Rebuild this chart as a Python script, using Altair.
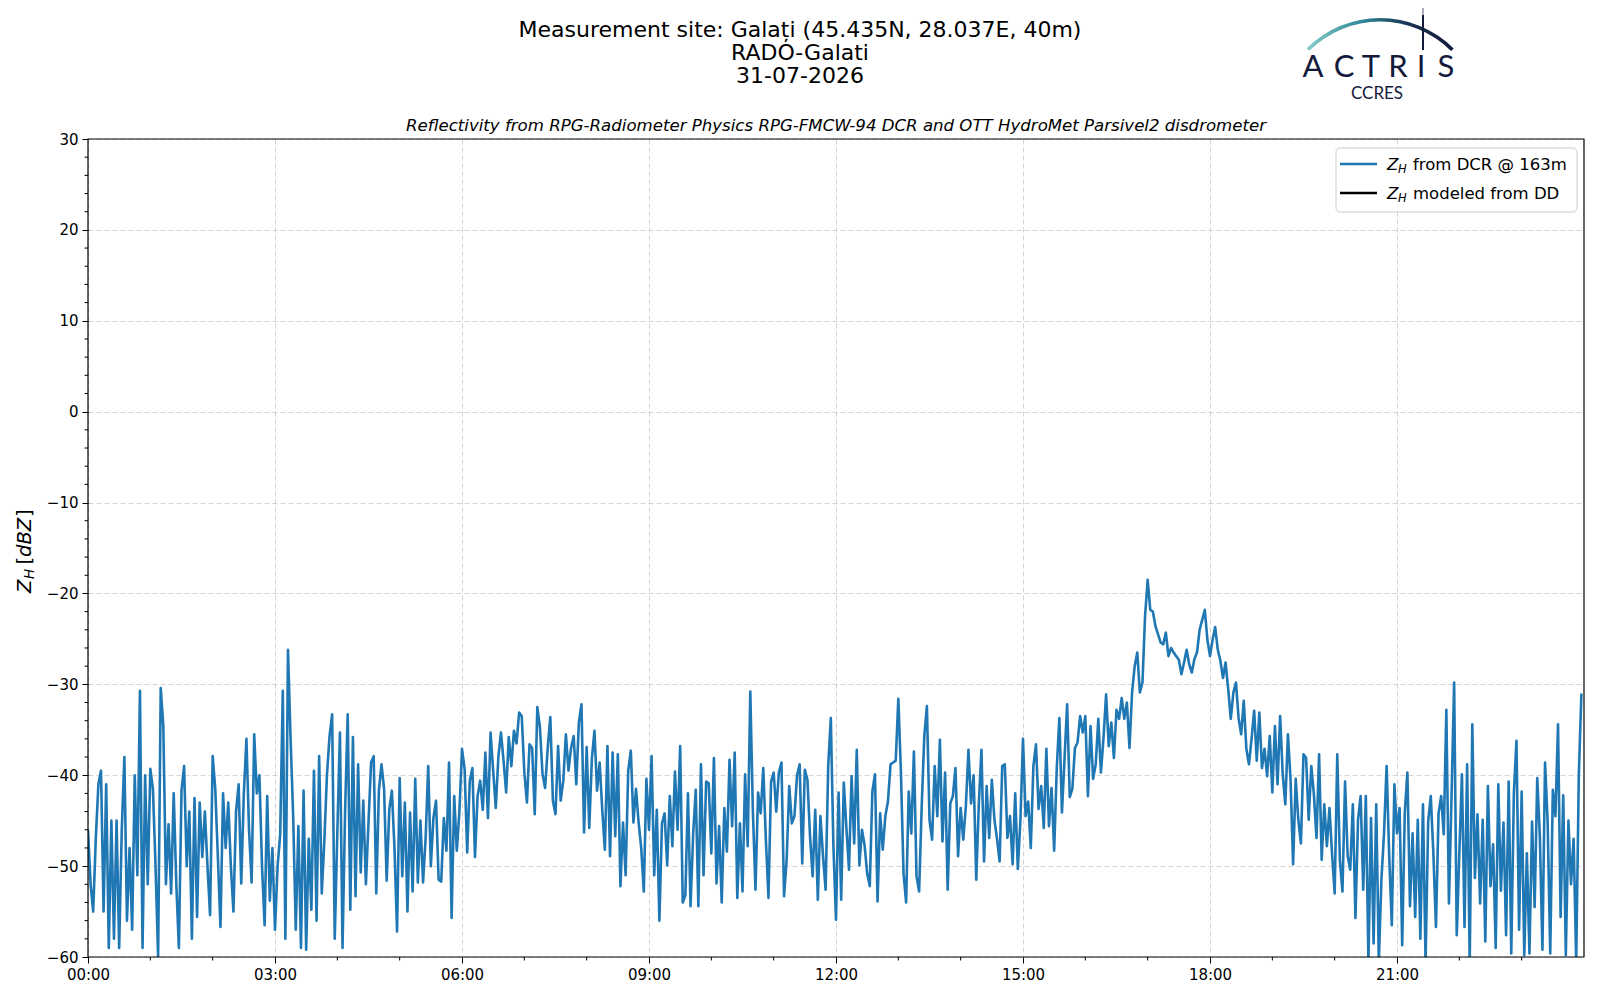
import pandas as pd
import altair as alt

FONT = "DejaVu Sans"
BLUE = "#1f77b4"
NAVY = "#141a3c"

# Z_H from the cloud radar, 2.5-minute steps, one list per 3 hours
zh_00_03 = [-46, -52, -55, -47, -41, -39.5, -55, -41, -59, -45, -58, -45, -59, -46, -38, -56, -48, -57,
            -40, -51, -30.7, -59, -40, -52, -39.3, -41.5, -50, -60, -30.4, -34.6, -52, -45.4, -53, -42, -52, -59,
            -41.7, -39, -50, -44, -58, -42.5, -55.6, -43, -49, -44, -50, -55.4, -37.9, -41.5, -49, -56.7, -42, -48,
            -43, -50, -55, -44, -41, -51.9, -42, -36, -46, -51.8, -35.5, -42, -40, -50, -56.5, -42.3, -53.8, -48]
zh_03_06 = [-57, -50, -46.5, -30.7, -58, -26.2, -36, -44.5, -57, -45.6, -59, -41.7, -59.2, -47, -54.8, -39.5, -56, -37.9,
            -53, -47.2, -40, -35.7, -33.3, -58, -46.3, -35.3, -59, -43.8, -33.3, -54.8, -35.8, -53.3, -38.8, -50.7, -42.8, -52,
            -45.2, -38.6, -37.9, -53, -41.7, -38.8, -41.5, -51.6, -43.8, -41.7, -48, -57.2, -40.3, -51.1, -43, -55, -44.1, -52.8,
            -40.4, -51.8, -45, -51.8, -46.9, -39, -50, -44.7, -42.8, -51.5, -51.7, -44.7, -48.3, -38.6, -55.7, -42.3, -48.3, -44]
zh_06_09 = [-37.1, -39.3, -48.5, -40.6, -39.2, -49, -42.3, -40.6, -43.8, -37.5, -44.7, -35.3, -39.5, -43.6, -38, -35.3, -38.4, -41.9,
            -35.8, -39, -35.1, -36.5, -33.1, -33.5, -39.7, -43, -36.6, -37, -44.3, -32.5, -34.7, -39.9, -41.4, -37, -33.6, -42.8,
            -44.3, -36.8, -42.8, -40.6, -35.5, -39.5, -37, -35.7, -41, -34.2, -32.2, -46.3, -36.9, -45.8, -38.2, -35.1, -41.7, -38.6,
            -43.8, -48.2, -36.8, -48.9, -37.5, -46.7, -37.7, -52.2, -45.2, -51, -39.5, -37.3, -45.2, -41.5, -45.2, -48, -52.8, -40.4]
zh_09_12 = [-46, -37.9, -51, -43.8, -56, -45.3, -44.2, -49.9, -42.3, -47.8, -39.6, -46, -36.8, -54, -53.2, -42, -54.4, -46.5,
            -41.6, -54.4, -38.8, -51, -40.7, -40.9, -48.6, -38.1, -51.9, -45.6, -54, -43.6, -48.4, -38.3, -45.6, -37.5, -53.5, -45.3,
            -52.8, -39.9, -47.8, -30.8, -44, -52.6, -41.9, -44.2, -39.2, -47.1, -53.5, -40.7, -39.7, -44, -39.7, -38.6, -53.3, -49.3,
            -41.2, -45.3, -44.5, -40, -38.8, -49.7, -39.4, -40.5, -46.7, -51.1, -43.8, -53.7, -44.5, -48.9, -52.6, -39, -33.7, -47.8]
zh_12_15 = [-55.9, -41.9, -53.7, -40.8, -45.8, -50.4, -40.1, -47.5, -37.2, -49.9, -46, -47.7, -50.8, -52.2, -41.8, -39.9, -53.9, -44.2,
            -48.2, -44.5, -42.9, -38.8, -38.6, -38.4, -31.6, -39.7, -50.8, -54, -41.8, -46.4, -37.4, -51.1, -52.8, -43.4, -35.7, -32.4,
            -44.9, -47.1, -39, -44.5, -36.1, -47.3, -39.7, -52.6, -43.1, -42.3, -39.2, -48.9, -43.6, -47.1, -43.4, -37.2, -43.1, -40,
            -51.5, -43.1, -37.2, -49.5, -41.2, -46.9, -40.5, -44.9, -47, -49.5, -39, -38.8, -46.9, -44.5, -49.8, -42, -50.3, -45]
zh_15_18 = [-36, -44.5, -42.9, -48, -39, -36.6, -43.7, -41.2, -45.8, -37.1, -45.6, -41.4, -48.3, -39.2, -33.7, -44.1, -38.1, -32.2,
            -42.4, -41.5, -37, -36.4, -33.5, -35.3, -33.5, -42.3, -34.6, -40.4, -38.8, -33.8, -39.7, -35.9, -31.1, -36.8, -34.2, -38.1,
            -32.8, -33.8, -31.5, -33.8, -32, -37, -30.9, -28, -26.5, -30.9, -29.8, -22.5, -18.5, -21.8, -22, -23.6, -24.5, -25.4,
            -25.6, -24.3, -26.9, -26, -26.5, -26.9, -27.3, -28.9, -27.6, -26.2, -27.8, -28.7, -27.2, -26.5, -24, -22.9, -21.8, -25.1]
zh_18_21 = [-26.9, -25.1, -23.7, -26.2, -27.4, -29.3, -27.6, -30.5, -33.8, -30.9, -29.8, -33.7, -35.5, -31.8, -37.1, -38.8, -36, -32.9,
            -38.4, -33.1, -39.2, -37.1, -40.1, -35.7, -41.9, -34.6, -41, -33.5, -39.9, -43.2, -35.5, -40.4, -49.8, -40.4, -44.9, -47.5,
            -37.7, -38.1, -44.9, -39, -42.1, -46.9, -37.7, -49.3, -43.2, -47.8, -43.6, -48.7, -53, -37.7, -49.3, -52.8, -40.7, -48.9,
            -50.4, -43.2, -55.7, -44.9, -42.3, -52.6, -42.3, -60.5, -44.7, -58.5, -43.2, -60.5, -51.5, -46.4, -39, -48.9, -56.5, -41]
zh_21_24 = [-46.4, -43.6, -58.7, -44.1, -39.7, -54.4, -46.4, -55.6, -44.9, -58, -43.2, -60.5, -45.1, -42.3, -48.6, -56.7, -44.2, -42.3,
            -46.5, -32.8, -54.1, -42.3, -29.8, -57.6, -48.6, -39.9, -56.7, -38.8, -60.5, -34.4, -51.3, -44.3, -54.1, -44.9, -58.3, -41.2,
            -52.2, -47.6, -59, -41, -52.7, -45.2, -57.6, -40.7, -59.6, -41.9, -36.2, -57, -41.8, -59.8, -48.6, -59.6, -45.1, -54.5,
            -40.3, -46.7, -59.2, -38.6, -45.1, -59.6, -41.6, -44.5, -34.4, -55.6, -42.2, -59.8, -45, -52, -47, -60.5, -40, -31]

y_ticks = [-60, -50, -40, -30, -20, -10, 0, 10, 20, 30]
x_tick_hours = [0, 3, 6, 9, 12, 15, 18, 21]
legend_labels = ["from DCR @ 163m", "modeled from DD"]
legend_colors = [BLUE, "black"]
title_lines = ["Measurement site: Galați (45.435N, 28.037E, 40m)", "RADO-Galati", "31-07-2026"]
subtitle = "Reflectivity from RPG-Radiometer Physics RPG-FMCW-94 DCR and OTT HydroMet Parsivel2 disdrometer"

zh = zh_00_03 + zh_03_06 + zh_06_09 + zh_09_12 + zh_12_15 + zh_15_18 + zh_18_21 + zh_21_24
df = pd.DataFrame({"time": pd.date_range("2026-07-31 00:00", periods=len(zh), freq="150s"), "zh": zh})

hours = pd.date_range("2026-07-31 00:00", periods=24, freq="h")
minor_x = pd.DataFrame({"time": [h for h in hours if h.hour % 3 != 0]})
minor_y = pd.DataFrame({"zh": [v for v in range(-58, 30, 2) if v % 10 != 0]})
one = pd.DataFrame({"k": [0]})

W, H = 1496, 818

x_scale = alt.Scale(domain=[alt.DateTime(year=2026, month=7, date=31, hours=0),
                            alt.DateTime(year=2026, month=8, date=1, hours=0)])
y_scale = alt.Scale(domain=[-60, 30], nice=False)

axis_style = dict(title=None, labelFont=FONT, labelFontSize=15, labelColor="black", tickColor="black",
                  tickSize=6, tickWidth=1, domain=False, grid=True, gridColor="#cfcfcf", gridDash=[5, 3],
                  gridWidth=0.9, labelPadding=4, labelOverlap=False)
x_axis = alt.Axis(values=[alt.DateTime(year=2026, month=7, date=31, hours=h) for h in x_tick_hours],
                  format="%H:%M", labelFlush=False, **axis_style)
y_axis = alt.Axis(values=y_ticks, **axis_style)

line = alt.Chart(df).mark_line(color=BLUE, strokeWidth=2.6, strokeJoin="round", clip=True).encode(
    x=alt.X("time:T", scale=x_scale, axis=x_axis),
    y=alt.Y("zh:Q", scale=y_scale, axis=y_axis),
)

# minor ticks, on the same scales and with the same axes
mx = alt.Chart(minor_x).mark_rule(color="black", strokeWidth=1).encode(
    x=alt.X("time:T", scale=x_scale, axis=x_axis), y=alt.value(H), y2=alt.value(H + 3.5))
my = alt.Chart(minor_y).mark_rule(color="black", strokeWidth=1).encode(
    y=alt.Y("zh:Q", scale=y_scale, axis=y_axis), x=alt.value(-3.5), x2=alt.value(0))

# black frame drawn over the grid
frame = alt.Chart(one).mark_rect(filled=False, stroke="black", strokeWidth=1.2).encode(
    x=alt.value(0), x2=alt.value(W), y=alt.value(0), y2=alt.value(H))


def text(s, x, y, size, style="normal", align="left", angle=0, dx=0, dy=0, color="black", font=FONT, **kw):
    return alt.Chart(one).mark_text(text=s, font=font, fontSize=size, fontStyle=style, align=align,
                                    baseline="alphabetic", angle=angle, dx=dx, dy=dy, color=color, **kw).encode(
        x=alt.value(x), y=alt.value(y))


layers = [line, mx, my, frame]

# titles
layers.append(text(title_lines, 712, -102.3, 22, align="center", lineHeight=23.3))
layers.append(text(subtitle, 748, -7.7, 16.6, style="italic", align="center"))

# y axis title  Z_H [dBZ]
for s, dx, dy, size, style in [("Z", 0, 0, 19.5, "italic"), ("H", 14, 2.5, 13.5, "italic"),
                               ("[", 28.5, 0, 19.5, "normal"), ("dBZ", 36, 0, 19.5, "italic"),
                               ("]", 76, 0, 19.5, "normal")]:
    layers.append(text(s, -57, 454, size, style=style, angle=270, dx=dx, dy=dy))

# legend
layers.append(alt.Chart(one).mark_rect(fill="white", fillOpacity=0.8, stroke="#cccccc", strokeWidth=1,
                                       cornerRadius=4).encode(
    x=alt.value(1248), x2=alt.value(1489), y=alt.value(9), y2=alt.value(73)))
for i, (lab, col) in enumerate(zip(legend_labels, legend_colors)):
    cy = 25 + 29 * i
    layers.append(alt.Chart(one).mark_rule(color=col, strokeWidth=2.6).encode(
        x=alt.value(1252), x2=alt.value(1289), y=alt.value(cy)))
    layers.append(text("Z", 1299, cy + 6, 16.5, style="italic"))
    layers.append(text("H", 1310, cy + 9, 11.5, style="italic"))
    layers.append(text(lab, 1325, cy + 6, 16.5))

# ACTRIS logo
layers.append(alt.Chart(one).mark_arc(
    theta=5.50, theta2=7.07, radius=104, radius2=100.4,
    color=alt.Gradient(gradient="linear",
                       stops=[alt.GradientStop(color="#86cdc9", offset=0),
                              alt.GradientStop(color="#2c8494", offset=0.4),
                              alt.GradientStop(color="#17304f", offset=0.7),
                              alt.GradientStop(color=NAVY, offset=1)],
                       x1=0, x2=1, y1=0, y2=0)).encode(x=alt.value(1292), y=alt.value(-17)))
layers.append(alt.Chart(one).mark_rule(color=NAVY, strokeWidth=2, opacity=0.35).encode(
    x=alt.value(1335), y=alt.value(-137), y2=alt.value(-124)))
layers.append(alt.Chart(one).mark_rule(color=NAVY, strokeWidth=2).encode(
    x=alt.value(1335), y=alt.value(-124), y2=alt.value(-89)))
for letter, lx in zip("ACTRIS", [1225, 1256, 1283, 1310, 1333, 1358]):
    layers.append(text(letter, lx, -62, 31, align="center", color=NAVY, font="Lato"))
layers.append(text("CCRES", 1289, -40, 17, align="center", color=NAVY, font="Lato"))

chart = alt.layer(*layers).properties(
    width=W, height=H,
    autosize=alt.AutoSizeParams(type="none"),
    padding={"left": 80, "top": 131, "right": 4, "bottom": 30},
).configure_view(strokeWidth=0)

chart.save("out.html", embed_options={"renderer": "svg", "actions": False})
